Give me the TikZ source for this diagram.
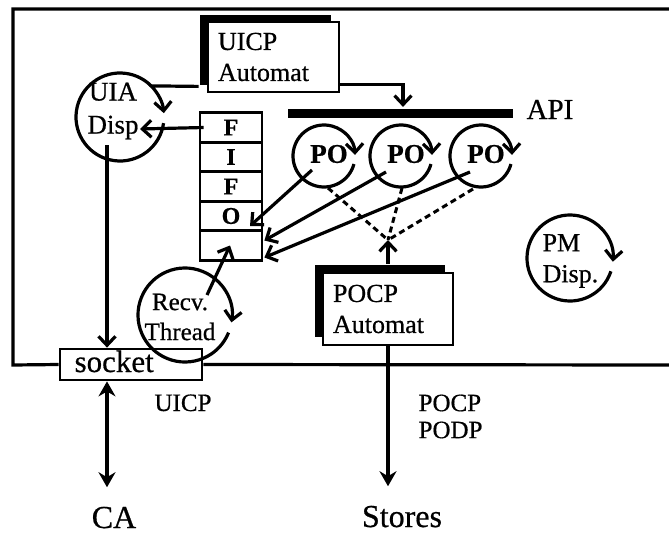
\documentclass[tikz,border=0pt]{standalone}
\usepackage{fontspec}
\setmainfont{Liberation Serif}[FakeBold=0.6]
\usetikzlibrary{arrows.meta,calc}
\begin{document}
\begin{tikzpicture}[x=1pt,y=-1pt,line width=3.2pt,
  txt/.style={font=\fontsize{25}{30}\selectfont, inner sep=0pt},
  ar/.style={-{Straight Barb[length=9pt,width=17pt]}},
  rot/.style={-{Straight Barb[length=9pt,width=17pt]}},
  big/.style={line width=4.4pt},
  box/.style={draw, fill=white, line width=2.8pt, minimum height=70pt, text width=111pt,
    inner xsep=10pt, inner ysep=0pt, align=left, font=\fontsize{26}{31}\selectfont},
  cell/.style={draw, line width=2.8pt, minimum width=62pt, minimum height=29.5pt, inner sep=0pt,
    font=\bfseries\fontsize{24}{24}\selectfont},
  proc/.style={circle, inner sep=0pt, outer sep=0pt},
  dsh/.style={dash pattern=on 6pt off 4pt, line width=3pt}
  ]
\useasboundingbox (0,0) rectangle (669,535);

% socket (drawn early so the Recv circle passes over it)
\node[draw, fill=white, line width=2.8pt, minimum width=142pt, minimum height=31pt, inner sep=0pt] (socket) at (131,364.5) {};
\node[txt, font=\fontsize{31}{31}\selectfont, anchor=base west] (socktxt) at (73,372) {socket};

% frame
\draw (669,9) -- (13,9) -- (13,365) -- (socket.west);
\draw (socket.east) -- (669,365);

% UICP Automat box with black shadow
\fill (200,15) rectangle (331,85);
\node[box] (uicp) at (273.5,57) {UICP\\Automat};

% POCP Automat box with black shadow
\fill (315,265) rectangle (445,337);
\node[box, minimum height=72pt, text width=110pt] (pocp) at (388,309) {POCP\\Automat};

% API bar
\node[fill, minimum width=225pt, minimum height=9pt, inner sep=0pt] (apibar) at (400.5,113) {};
\node[txt, font=\fontsize{29}{29}\selectfont, anchor=base west] (api) at (525,119) {API};

% UIA Disp
\node[proc, minimum size=88pt] (uia) at (120,117) {};
\node[txt, align=center, font=\fontsize{27}{33}\selectfont] (uiaT) at (113,111) {UIA\\Disp};
\draw (uia.-8) arc[start angle=-8, end angle=-315, radius=44pt];

% FIFO
\node[cell] (f1) at (231,127.5) {F};
\node[cell] (f2) at (231,157) {I};
\node[cell] (f3) at (231,186.5) {F};
\node[cell] (f4) at (231,216) {O};
\node[cell] (f5) at (231,245.5) {};

% PO circles
\node[proc, minimum size=62pt] (po1) at (324,156) {};
\node[proc, minimum size=62pt] (po2) at (401,156) {};
\node[proc, minimum size=62pt] (po3) at (481,156) {};
\foreach \p in {po1,po2,po3}{
  \draw[rot] (\p.-15) arc[start angle=-15, end angle=-358, radius=31pt];
  \node[txt, font=\bfseries\fontsize{27}{27}\selectfont] (\p T) at ($(\p)+(5,-2)$) {PO};
}

% PM Disp
\node[proc, minimum size=86pt] (pm) at (570,258) {};
\draw[rot] (pm.-18) arc[start angle=-18, end angle=-365, radius=43pt];
\node[txt, align=left, anchor=west, font=\fontsize{26}{31}\selectfont] (pmT) at (541,261) {PM\\Disp.};

% Recv. Thread
\node[proc, minimum size=94pt] (recv) at (185,315) {};
\draw[rot] (recv.-22) arc[start angle=-22, end angle=-369, radius=47pt];
\node[txt, align=center] (recvT) at (180,317) {Recv.\\Thread};

% connectors
\draw[ar] ($(uicp.south west)+(-8,-7)$) -- (uia.45) arc[start angle=45, end angle=5, radius=44pt];
\draw[ar] ($(uicp.south east)+(0,-9)$) -| ($(apibar.north)+(2.5,0)$);
\coordinate (uiain) at (140,129);
\draw[ar] ($(f1.west)+(5,0)$) -- (uiain);
\coordinate (uiaout) at ($(uia)+(-13,28)$);
\draw[ar] (uiaout) -- (uiaout |- socket.north);
\draw[ar] ($(recv)+(22,-20)$) -- ($(f5.center)+(-1,0)$);
\draw[ar] ($(po1)+(-12,14)$) -- ($(f4.center)+(19,10)$);
\draw[ar] ($(po2)+(-15,16)$) -- ($(f5.east)+(1,-5)$);
\draw[ar] ($(po3)+(-11,16)$) -- ($(f5.east)+(1,12)$);

\coordinate (meet) at (388,240);
\draw[dsh] ($(po1)+(4,32)$) -- (meet);
\draw[dsh] ($(po2)+(1,32)$) -- (meet);
\draw[dsh] ($(po3)+(-8,33)$) -- (meet);
\draw[ar] ($(pocp.north)+(0,-8)$) -- (meet);

% external labels and arrows
\node[txt, font=\fontsize{32}{32}\selectfont, anchor=base] (ca) at (114,528) {CA};
\node[txt, font=\fontsize{32}{32}\selectfont, anchor=base] (stores) at (402,527) {Stores};
\node[txt, anchor=base] (uicplbl) at (183,411) {UICP};
\node[txt, align=left, anchor=north west, font=\fontsize{25}{27}\selectfont] (poclbl) at (417,393) {POCP\\PODP};

\coordinate (cain) at ($(ca.north)+(0,-18)$);
\draw[big, {Stealth[length=15pt,width=17pt,inset=5pt]}-{Stealth[length=15pt,width=17pt,inset=5pt]}]
  (socket.south -| uiaout) -- (cain -| uiaout);
\coordinate (storesin) at ($(stores.north)+(0,-18)$);
\draw[big, -{Stealth[length=15pt,width=17pt,inset=5pt]}] (pocp.south) -- (pocp.south |- storesin);
\end{tikzpicture}
\end{document}
